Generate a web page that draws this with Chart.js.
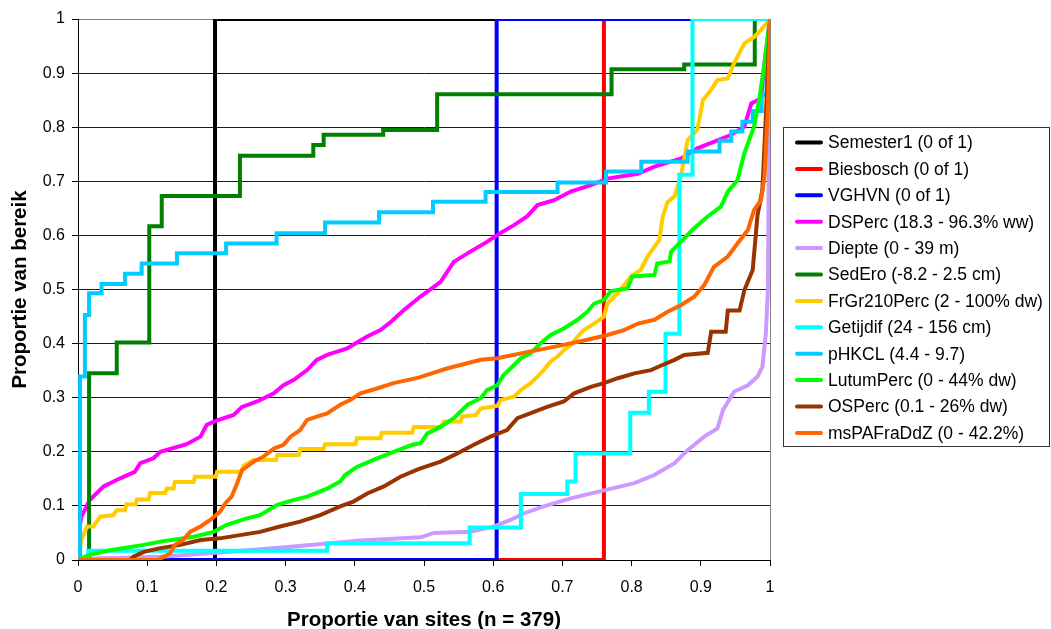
<!DOCTYPE html>
<html>
<head>
<meta charset="utf-8">
<title>Proportie van bereik</title>
<script src="https://cdn.jsdelivr.net/npm/chart.js@4.4.1/dist/chart.umd.min.js"></script>
<style>
  html, body { margin: 0; padding: 0; background: #fff; }
  #wrap { width: 1051px; height: 629px; position: relative; }
</style>
</head>
<body>
<div id="wrap"><canvas id="chart"></canvas></div>
<script>
// Series, as [proportion of sites, proportion of range] pairs
const labels = [
  'Semester1 (0 of 1)', 'Biesbosch (0 of 1)', 'VGHVN (0 of 1)', 'DSPerc (18.3 - 96.3% ww)',
  'Diepte (0 - 39 m)', 'SedEro (-8.2 - 2.5 cm)', 'FrGr210Perc (2 - 100% dw)', 'Getijdif (24 - 156 cm)',
  'pHKCL (4.4 - 9.7)', 'LutumPerc (0 - 44% dw)', 'OSPerc (0.1 - 26% dw)', 'msPAFraDdZ (0 - 42.2%)'
];
const colors = ['#000000', '#ff0000', '#0000ff', '#ff00ff', '#cc99ff', '#008000',
  '#ffcc00', '#00ffff', '#00ccff', '#00ff00', '#993300', '#ff6600'];

// step series: each pair is the x where the value jumps, and the new value
const semester1 = [[0, 0], [0.198, 1], [1, 1]];
const biesbosch = [[0, 0], [0.760, 1], [1, 1]];
const vghvn = [[0, 0], [0.605, 1], [1, 1]];
const sedEro = [[0, 0], [0.016, 0.345], [0.056, 0.402], [0.103, 0.617], [0.121, 0.673], [0.234, 0.747],
  [0.340, 0.767], [0.355, 0.786], [0.441, 0.795], [0.519, 0.861], [0.771, 0.907], [0.876, 0.916],
  [0.978, 1], [1, 1]];
const getijdif = [[0, 0], [0.015, 0.017], [0.360, 0.031], [0.566, 0.060], [0.640, 0.122], [0.707, 0.145],
  [0.719, 0.197], [0.798, 0.272], [0.825, 0.311], [0.849, 0.418], [0.869, 0.712], [0.888, 1], [1, 1]];
const pHKCL = [[0, 0], [0.003, 0.339], [0.010, 0.453], [0.016, 0.493], [0.034, 0.510], [0.068, 0.529],
  [0.092, 0.548], [0.143, 0.567], [0.214, 0.585], [0.287, 0.604], [0.357, 0.624], [0.435, 0.643],
  [0.513, 0.662], [0.589, 0.680], [0.693, 0.698], [0.763, 0.718], [0.814, 0.736], [0.881, 0.755],
  [0.927, 0.775], [0.944, 0.792], [0.960, 0.810], [0.975, 0.830], [0.988, 0.860], [0.995, 0.930], [1, 1]];

// curve series: plain polylines
const dsPerc = [[0, 0], [0.002, 0.060], [0.005, 0.080], [0.017, 0.111], [0.037, 0.136], [0.061, 0.151],
  [0.082, 0.163], [0.090, 0.179], [0.109, 0.188], [0.119, 0.200], [0.157, 0.214], [0.177, 0.228],
  [0.186, 0.250], [0.201, 0.258], [0.225, 0.268], [0.237, 0.283], [0.259, 0.293], [0.283, 0.308],
  [0.297, 0.323], [0.312, 0.333], [0.331, 0.351], [0.345, 0.370], [0.360, 0.379], [0.389, 0.391],
  [0.403, 0.402], [0.418, 0.413], [0.437, 0.425], [0.452, 0.440], [0.471, 0.462], [0.495, 0.487],
  [0.524, 0.514], [0.543, 0.551], [0.567, 0.570], [0.591, 0.588], [0.606, 0.601], [0.630, 0.619],
  [0.649, 0.635], [0.664, 0.656], [0.688, 0.665], [0.712, 0.681], [0.741, 0.693], [0.765, 0.705],
  [0.809, 0.714], [0.833, 0.727], [0.871, 0.742], [0.895, 0.761], [0.915, 0.771], [0.944, 0.786],
  [0.963, 0.801], [0.973, 0.844], [0.987, 0.853], [0.992, 0.918], [1, 1]];
const diepte = [[0, 0], [0.022, 0.003], [0.119, 0.006], [0.215, 0.015], [0.312, 0.025], [0.408, 0.036],
  [0.495, 0.042], [0.514, 0.050], [0.567, 0.052], [0.601, 0.062], [0.625, 0.074], [0.644, 0.086],
  [0.673, 0.099], [0.712, 0.114], [0.751, 0.126], [0.804, 0.142], [0.833, 0.157], [0.862, 0.179],
  [0.881, 0.203], [0.905, 0.228], [0.924, 0.243], [0.932, 0.277], [0.948, 0.311], [0.968, 0.323],
  [0.982, 0.339], [0.989, 0.357], [0.994, 0.419], [0.997, 0.499], [0.999, 0.850], [1, 1]];
const frGr210Perc = [[0, 0], [0.005, 0.037], [0.013, 0.062], [0.022, 0.062], [0.032, 0.080], [0.051, 0.083],
  [0.056, 0.092], [0.068, 0.092], [0.070, 0.103], [0.083, 0.103], [0.085, 0.112], [0.102, 0.112],
  [0.104, 0.124], [0.126, 0.124], [0.128, 0.132], [0.138, 0.132], [0.140, 0.144], [0.167, 0.144],
  [0.169, 0.154], [0.199, 0.154], [0.201, 0.163], [0.236, 0.163], [0.239, 0.174], [0.254, 0.185],
  [0.286, 0.185], [0.288, 0.194], [0.319, 0.194], [0.321, 0.205], [0.355, 0.205], [0.357, 0.214],
  [0.401, 0.214], [0.403, 0.225], [0.437, 0.225], [0.439, 0.235], [0.483, 0.235], [0.485, 0.246],
  [0.524, 0.246], [0.529, 0.256], [0.553, 0.256], [0.555, 0.265], [0.575, 0.268], [0.582, 0.280],
  [0.606, 0.285], [0.611, 0.296], [0.630, 0.302], [0.640, 0.314], [0.654, 0.327], [0.664, 0.339],
  [0.673, 0.351], [0.683, 0.367], [0.693, 0.376], [0.702, 0.388], [0.712, 0.397], [0.722, 0.413],
  [0.731, 0.425], [0.746, 0.437], [0.760, 0.450], [0.765, 0.474], [0.780, 0.493], [0.799, 0.524],
  [0.813, 0.536], [0.823, 0.561], [0.833, 0.579], [0.840, 0.591], [0.845, 0.635], [0.852, 0.662],
  [0.862, 0.672], [0.871, 0.708], [0.881, 0.776], [0.895, 0.795], [0.903, 0.850], [0.915, 0.869],
  [0.924, 0.887], [0.939, 0.890], [0.948, 0.918], [0.963, 0.955], [0.977, 0.967], [0.987, 0.980], [1, 1]];
const lutumPerc = [[0, 0], [0.015, 0.009], [0.046, 0.018], [0.095, 0.028], [0.119, 0.034], [0.167, 0.043],
  [0.196, 0.052], [0.215, 0.065], [0.244, 0.077], [0.263, 0.083], [0.288, 0.102], [0.312, 0.111],
  [0.331, 0.117], [0.360, 0.132], [0.379, 0.145], [0.386, 0.157], [0.403, 0.172], [0.427, 0.185],
  [0.456, 0.200], [0.483, 0.213], [0.495, 0.216], [0.505, 0.234], [0.524, 0.246], [0.543, 0.262],
  [0.563, 0.287], [0.582, 0.299], [0.591, 0.314], [0.606, 0.323], [0.615, 0.342], [0.625, 0.354],
  [0.640, 0.373], [0.654, 0.382], [0.669, 0.401], [0.683, 0.416], [0.702, 0.428], [0.722, 0.444],
  [0.736, 0.459], [0.746, 0.474], [0.760, 0.481], [0.770, 0.497], [0.794, 0.502], [0.801, 0.524],
  [0.833, 0.527], [0.837, 0.548], [0.855, 0.552], [0.857, 0.570], [0.871, 0.588], [0.890, 0.613],
  [0.910, 0.635], [0.929, 0.653], [0.939, 0.681], [0.953, 0.702], [0.963, 0.752], [0.977, 0.801],
  [0.985, 0.856], [0.992, 0.918], [1, 1]];
const osPerc = [[0, 0], [0.075, 0], [0.080, 0.006], [0.095, 0.015], [0.119, 0.022], [0.148, 0.028],
  [0.177, 0.037], [0.205, 0.040], [0.234, 0.046], [0.263, 0.052], [0.292, 0.062], [0.321, 0.071],
  [0.350, 0.083], [0.379, 0.099], [0.398, 0.108], [0.418, 0.123], [0.442, 0.136], [0.466, 0.154],
  [0.492, 0.168], [0.524, 0.182], [0.548, 0.197], [0.572, 0.213], [0.596, 0.228], [0.620, 0.240],
  [0.635, 0.262], [0.659, 0.274], [0.678, 0.283], [0.702, 0.293], [0.717, 0.308], [0.741, 0.320],
  [0.760, 0.327], [0.780, 0.336], [0.804, 0.345], [0.828, 0.351], [0.842, 0.359], [0.862, 0.370],
  [0.876, 0.379], [0.910, 0.383], [0.915, 0.422], [0.936, 0.422], [0.939, 0.461], [0.956, 0.461],
  [0.963, 0.499], [0.975, 0.536], [0.982, 0.638], [0.989, 0.684], [0.994, 0.819], [1, 1]];
const msPAFraDdZ = [[0, 0], [0.115, 0], [0.124, 0.006], [0.133, 0.012], [0.140, 0.028], [0.152, 0.037],
  [0.162, 0.052], [0.177, 0.062], [0.191, 0.074], [0.205, 0.089], [0.213, 0.105], [0.222, 0.117],
  [0.230, 0.142], [0.237, 0.166], [0.254, 0.182], [0.268, 0.191], [0.283, 0.206], [0.297, 0.213],
  [0.307, 0.228], [0.321, 0.240], [0.331, 0.259], [0.345, 0.265], [0.360, 0.271], [0.379, 0.287],
  [0.394, 0.296], [0.408, 0.308], [0.432, 0.317], [0.456, 0.327], [0.492, 0.337], [0.533, 0.354],
  [0.582, 0.370], [0.606, 0.373], [0.640, 0.382], [0.688, 0.394], [0.736, 0.407], [0.765, 0.416],
  [0.789, 0.425], [0.809, 0.437], [0.833, 0.444], [0.852, 0.459], [0.871, 0.471], [0.890, 0.486],
  [0.905, 0.508], [0.919, 0.542], [0.939, 0.561], [0.953, 0.585], [0.968, 0.610], [0.977, 0.647],
  [0.987, 0.665], [0.992, 0.708], [0.997, 0.838], [1, 1]];

const series = [semester1, biesbosch, vghvn, dsPerc, diepte, sedEro,
  frGr210Perc, getijdif, pHKCL, lutumPerc, osPerc, msPAFraDdZ];
const stepped = [true, true, true, false, false, true, false, true, true, false, false, false];

const axisTicks = [0, 0.1, 0.2, 0.3, 0.4, 0.5, 0.6, 0.7, 0.8, 0.9, 1];

const FONT = 'Arial, "Liberation Sans", sans-serif';

// legend with a frame, drawn right of the plot like the original
const framedLegend = {
  id: 'framedLegend',
  afterDraw(chart) {
    const ctx = chart.ctx;
    const left = chart.chartArea.right + 13;
    const top = 127.5;
    const rowH = 26.4;
    ctx.save();
    ctx.fillStyle = '#fff';
    ctx.fillRect(left, top, 1050 - left, 319);
    ctx.strokeStyle = '#333';
    ctx.lineWidth = 1;
    ctx.strokeRect(left + 0.5, top, 1049.5 - left - 0.5, 319);
    ctx.font = '17.5px ' + FONT;
    ctx.textBaseline = 'middle';
    ctx.lineCap = 'round';
    chart.data.datasets.forEach((ds, i) => {
      const y = top + 15 + i * rowH;
      ctx.strokeStyle = ds.borderColor;
      ctx.lineWidth = 4;
      ctx.beginPath();
      ctx.moveTo(left + 14, y);
      ctx.lineTo(left + 38, y);
      ctx.stroke();
      ctx.fillStyle = '#000';
      ctx.fillText(ds.label, left + 45, y + 1);
    });
    ctx.restore();
  }
};

const datasets = series.map((pts, i) => ({
  label: labels[i],
  data: pts.map(p => ({ x: p[0], y: p[1] })),
  borderColor: colors[i],
  backgroundColor: colors[i],
  borderWidth: 4,
  pointRadius: 0,
  tension: 0,
  stepped: stepped[i],
  fill: false,
  order: series.length - i
}));

const fmt = v => String(Number(v.toFixed(1)));

new Chart(document.getElementById('chart'), {
  type: 'line',
  data: { datasets },
  options: {
    responsive: true,
    maintainAspectRatio: false,
    animation: false,
    layout: { padding: { top: 19, right: 281, bottom: 0, left: 0 } },
    plugins: {
      legend: { display: false },
      tooltip: { enabled: false }
    },
    scales: {
      x: {
        type: 'linear',
        min: 0,
        max: 1,
        afterBuildTicks: s => { s.ticks = axisTicks.map(v => ({ value: v })); },
        afterFit: s => { s.height = 69; },
        ticks: { callback: fmt, color: '#000', padding: 12, maxRotation: 0, font: { family: FONT, size: 16 } },
        grid: {
          color: c => (c.tick && c.tick.value === 1 ? '#808080' : 'rgba(0,0,0,0)'),
          tickColor: '#000',
          tickLength: 6
        },
        border: { display: true, color: '#000', width: 1 },
        title: {
          display: true,
          text: 'Proportie van sites (n = 379)',
          color: '#000',
          padding: { top: 0, bottom: 0 },
          font: { family: FONT, size: 20.5, weight: 'bold', lineHeight: 0.8 }
        }
      },
      y: {
        type: 'linear',
        min: 0,
        max: 1,
        afterBuildTicks: s => { s.ticks = axisTicks.map(v => ({ value: v })); },
        afterFit: s => { s.width = 78; },
        ticks: { callback: fmt, color: '#000', padding: 7, font: { family: FONT, size: 16 } },
        grid: {
          color: c => (c.tick && c.tick.value === 1 ? '#808080' : '#1a1a1a'),
          tickColor: '#000',
          tickLength: 6
        },
        border: { display: true, color: '#000', width: 1 },
        title: {
          display: true,
          text: 'Proportie van bereik',
          color: '#000',
          padding: { top: 10, bottom: 0 },
          font: { family: FONT, size: 20.5, weight: 'bold', lineHeight: 1 }
        }
      }
    }
  },
  plugins: [framedLegend]
});
</script>
</body>
</html>
